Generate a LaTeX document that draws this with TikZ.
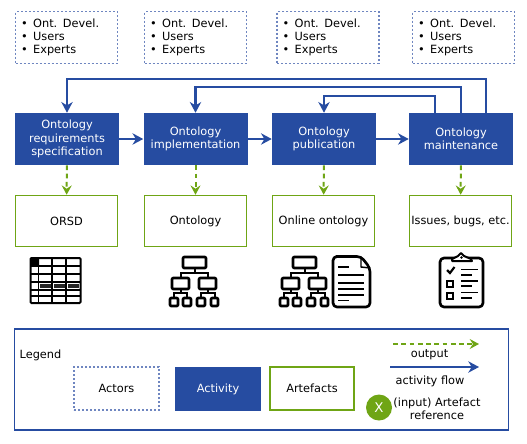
\documentclass[tikz,border=0pt]{standalone}
\usepackage{fontspec}
\setmainfont{DejaVu Sans}
\usetikzlibrary{arrows.meta}
\definecolor{actblue}{HTML}{264CA1}
\definecolor{artgreen}{HTML}{6FA515}
\definecolor{dotblue}{HTML}{6F86C0}
\newcommand{\actorlist}{\makebox[9pt][l]{\textbullet}Ont. Devel.\\\makebox[9pt][l]{\textbullet}Users\\\makebox[9pt][l]{\textbullet}Experts}
\tikzset{
	txt/.style={font=\fontsize{8.5pt}{9.9pt}\selectfont,inner sep=0pt,align=center},
	actorbox/.style={draw=dotblue,line width=0.9pt,dash pattern=on 1.6pt off 1.4pt,minimum width=76.5pt,minimum height=38.5pt,inner sep=0pt,font=\fontsize{8.5pt}{9.75pt}\selectfont,align=left},
	actorlistbox/.style={actorbox,text width=68pt},
	activitybox/.style={fill=actblue,minimum width=78pt,minimum height=39pt,inner sep=0pt,text=white,font=\fontsize{8.5pt}{9.9pt}\selectfont,align=center},
	artefactbox/.style={draw=artgreen,line width=0.9pt,minimum width=76.5pt,minimum height=38.5pt,inner sep=0pt,font=\fontsize{8.5pt}{9.9pt}\selectfont,align=center},
	flow/.style={draw=actblue,line width=1.6pt,-{Stealth[length=8pt,width=8.5pt,inset=2.5pt]}},
	output/.style={draw=artgreen,line width=1.5pt,dash pattern=on 3.6pt off 2.6pt,-{Stealth[length=7pt,width=7.5pt,inset=2.5pt]}},
	icon/.style={draw=black,line width=2pt,line join=round,rounded corners=0.8pt},
	orgtree/.pic={
		\draw[icon] (183,257) rectangle (206,268);
		\draw[icon] (172,278) rectangle (189,289) (199,278) rectangle (216,289);
		\draw[icon] (170,298) rectangle (178,306) (183,298) rectangle (191,306) (197,298) rectangle (205,306) (211,298) rectangle (218,306);
		\draw[line width=1.5pt] (194.5,268)--(194.5,272) (180.5,278)--(180.5,272.5)--(207.5,272.5)--(207.5,278);
		\draw[line width=1.5pt] (180.5,289)--(180.5,293) (174,298)--(174,293)--(187,293)--(187,298);
		\draw[line width=1.5pt] (207.5,289)--(207.5,293) (201,298)--(201,293)--(215,293)--(215,298);
	}
}
\begin{document}
\begin{tikzpicture}[x=0.75pt,y=-0.75pt]
	\useasboundingbox (0,0) rectangle (527,443);
	% actors
	\node[actorlistbox] (act1) at (66.5,37.5) {\actorlist};
	\node[actorlistbox] (act2) at (195.5,37.5) {\actorlist};
	\node[actorlistbox] (act3) at (328,37.5) {\actorlist};
	\node[actorlistbox] (act4) at (463.5,37.5) {\actorlist};
	% activities
	\node[activitybox] (orsp) at (67,139) {Ontology\\requirements\\specification};
	\node[activitybox] (impl) at (195.5,139) {Ontology\\implementation};
	\node[activitybox] (publ) at (324,139) {Ontology\\publication};
	\node[activitybox] (main) at (461,139) {Ontology\\maintenance};
	% artefacts
	\node[artefactbox] (orsd) at (66.5,221) {ORSD};
	\node[artefactbox] (onto) at (195.5,221) {Ontology};
	\node[artefactbox] (onli) at (323.5,221) {Online ontology};
	\node[artefactbox] (issu) at (460.5,221) {Issues, bugs, etc.};
	% flow
	\draw[flow] (orsp)--(impl);
	\draw[flow] (impl)--(publ);
	\draw[flow] (publ)--(main);
	\draw[flow] ([xshift=18.75pt]main.north)--++(0,-34)-|(orsp.north);
	\draw[flow] (main.north)--++(0,-26)-|(impl.north);
	\draw[flow] ([xshift=-19.5pt]main.north)--++(0,-17)-|(publ.north);
	\draw[output] (orsp)--(orsd);
	\draw[output] (impl)--(onto);
	\draw[output] (publ)--(onli);
	\draw[output] (main)--(issu);
	% table icon
	\draw[line width=1.5pt,rounded corners=0.8pt] (30.5,258)rectangle(80.5,303);
	\fill[rounded corners=0.8pt] (30,257.5)rectangle(39,266);
	\foreach \y in {266,274,282,290,296}
		\draw[line width=1.3pt] (30.5,\y)--(80.5,\y);
	\foreach \x in {38.5,52,66}
		\draw[line width=1.3pt] (\x,258)--(\x,303);
	\foreach \x in {40,54,68}
		\fill[black!85] (\x,283.5) rectangle ++(11,4);
	% tree icons
	\pic {orgtree};
	\pic at (110,0) {orgtree};
	% document icon
	\draw[icon,rounded corners=3pt] (340,256.5)--(361,256.5)--(370,268)--(370,307)--(333,307)--(333,256.5)--cycle;
	\draw[line width=1.1pt,line join=round] (361,256.5)--(361,267)--(370,268);
	\foreach \y/\e in {267/349,275/364,283/364,289/364,295/364,300.5/349}
		\draw[line width=1.3pt] (338,\y)--(\e,\y);
	% clipboard icon
	\draw[icon,rounded corners=3pt] (440,258)rectangle(483,307);
	\draw[fill=white,line width=1.5pt,line join=round] (452,261)--(452,259)--(458,256)--(461,253)--(464,256)--(471,259)--(472,261)--cycle;
	\fill (461.5,257.5) circle (1pt);
	\draw[line width=1.6pt] (447,270)--(450,273)--(454.5,267);
	\draw[line width=1.5pt] (446.5,281)rectangle(452.5,287) (446.5,292.5)rectangle(452.5,298.5);
	\draw[line width=1.3pt] (461,269.5)--(478,269.5) (461,275)--(472,275) (461,281)--(478,281) (461,286)--(472,286) (461,292.5)--(478,292.5) (461,298)--(472,298);
	% legend
	\node[draw=actblue,line width=0.9pt,minimum width=370pt,minimum height=75.75pt,inner sep=0pt] (lgd) at (261.5,379.5) {};
	\node[txt] (lgdtxt) at (40.5,355) {Legend};
	\node[actorbox,minimum width=63.75pt,minimum height=32.25pt] (lact) at (116.5,388.5) {Actors};
	\node[activitybox,minimum width=65pt,minimum height=33pt] (lflw) at (218,389) {Activity};
	\node[artefactbox,minimum width=63pt,minimum height=32.25pt] (lart) at (312,388.5) {Artefacts};
	\coordinate (oa) at (393,344);
	\coordinate (ob) at (479,344);
	\coordinate (fa) at (390,367);
	\coordinate (fb) at (479,367);
	\draw[output] (oa)--(ob);
	\draw[flow] (fa)--(fb);
	\node[txt] (lout) at (429.5,355) {output};
	\node[txt] (lflo) at (430,381) {activity flow};
	\node[circle,fill=artgreen,minimum size=19.5pt,inner sep=0pt,text=white,font=\fontsize{10pt}{10pt}\selectfont] (lref) at (379,407.5) {X};
	\node[txt] (lrtx) at (437,408.5) {(input) Artefact\\reference};
\end{tikzpicture}
\end{document}
